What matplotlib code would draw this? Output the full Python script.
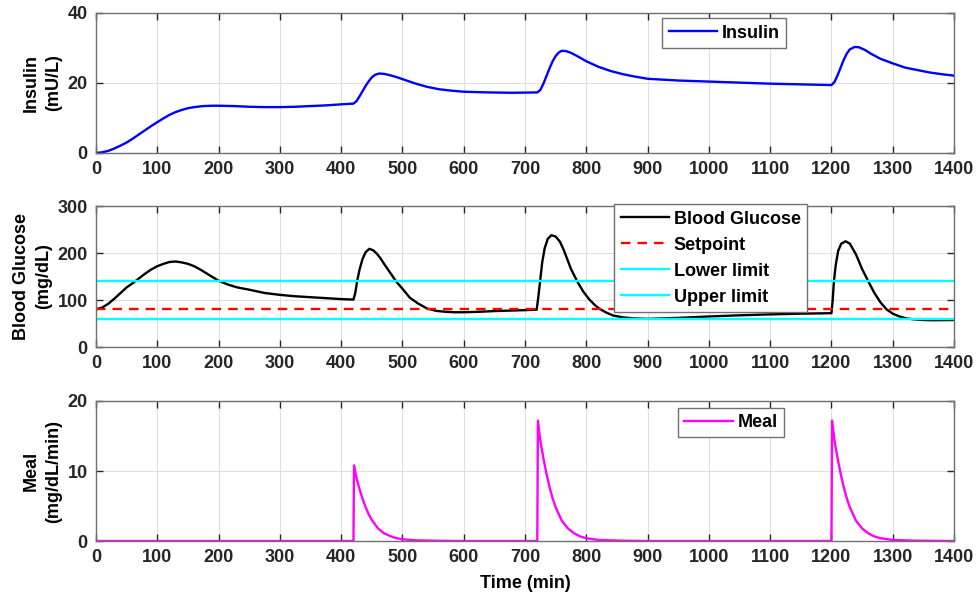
import matplotlib
matplotlib.use("Agg")
from matplotlib import pyplot as plt

plt.rcParams['font.family'] = ['Liberation Sans', 'DejaVu Sans']
plt.rcParams['font.weight'] = 'bold'
plt.rcParams['axes.labelweight'] = 'bold'
plt.rcParams['font.size'] = 13

# insulin (mU/L) vs time (min)
ins_t = [0, 10, 20, 30, 40, 50, 60, 70, 80, 90, 100, 110, 120, 130, 140, 150, 160, 175, 190, 200,
         225, 250, 275, 300, 325, 350, 375, 400, 420,
         425, 430, 435, 440, 445, 450, 455, 462, 470, 480, 490, 500, 520, 540, 560, 580, 600,
         640, 680, 720,
         725, 730, 735, 740, 745, 750, 755, 760, 767, 775, 785, 800, 820, 840, 860, 880, 900,
         950, 1000, 1050, 1100, 1150, 1200,
         1205, 1210, 1215, 1220, 1225, 1230, 1238, 1245, 1255, 1265, 1280, 1300, 1320, 1340,
         1360, 1380, 1400]
ins_v = [0, 0.2, 0.6, 1.3, 2.1, 3.0, 4.1, 5.3, 6.5, 7.7, 8.8, 9.9, 10.9, 11.7, 12.3, 12.8, 13.1, 13.4, 13.5, 13.5,
         13.4, 13.2, 13.1, 13.1, 13.2, 13.4, 13.6, 13.9, 14.1,
         14.8, 16.2, 17.7, 19.2, 20.5, 21.6, 22.3, 22.7, 22.6, 22.2, 21.7, 21.1, 19.9, 18.9, 18.2, 17.8, 17.5,
         17.3, 17.2, 17.3,
         18.0, 19.8, 22.0, 24.2, 26.2, 27.7, 28.7, 29.2, 29.1, 28.6, 27.7, 26.2, 24.6, 23.4, 22.5, 21.8, 21.2,
         20.7, 20.4, 20.1, 19.8, 19.6, 19.4,
         20.3, 22.2, 24.4, 26.6, 28.4, 29.6, 30.3, 30.2, 29.4, 28.3, 26.9, 25.6, 24.4, 23.7,
         23.0, 22.5, 22.1]

# blood glucose (mg/dL)
bg_t = [0, 10, 20, 30, 40, 50, 60, 70, 80, 90, 100, 110, 120, 130, 140, 150, 160, 170, 180, 190, 200,
        215, 230, 250, 275, 300, 325, 350, 375, 400, 420,
        423, 426, 430, 435, 440, 446, 452, 458, 464, 470, 480, 490, 500, 512, 525, 540, 555, 570,
        585, 600, 625, 650, 675, 700, 719,
        722, 725, 728, 732, 737, 743, 750, 757, 763, 768, 775, 785, 795, 805, 815, 822, 833, 844,
        860, 877, 900, 950, 1000, 1050, 1100, 1150, 1200,
        1202, 1204, 1207, 1211, 1216, 1223, 1230, 1240, 1250, 1260, 1270, 1280, 1290, 1300, 1311,
        1322, 1333, 1350, 1365, 1400]
bg_v = [80, 84, 92, 103, 115, 127, 136, 146, 156, 165, 172, 177, 181, 182, 180, 177, 172, 165, 157, 149, 141,
        133, 127, 122, 115, 111, 108, 106, 104, 102, 101,
        115, 140, 165, 188, 202, 209, 206, 199, 189, 177, 158, 139, 124, 105, 93, 82, 77, 75,
        74, 74, 75, 76.5, 77.5, 78.5, 79.5,
        110, 145, 180, 210, 230, 238, 235, 224, 207, 190, 166, 140, 118, 101, 88, 81, 73, 67,
        63, 61, 60, 62, 65, 67.5, 69.5, 71, 72,
        100, 140, 175, 205, 220, 225, 220, 197, 166, 140, 115, 95, 80, 71, 65,
        61, 59, 57.5, 57, 57.5]

setpoint = 80
lower_limit = 140
upper_limit = 60

# meal disturbance (mg/dL/min)
meal_t = [0, 420, 421, 425, 430, 435, 440, 445, 450, 460, 470, 480, 490, 500, 520, 560, 600,
          720, 721, 725, 730, 735, 740, 745, 750, 760, 770, 780, 790, 800, 820, 860, 900,
          1200, 1201, 1205, 1210, 1215, 1220, 1225, 1230, 1240, 1250, 1260, 1270, 1280, 1300, 1340, 1400]
meal_v = [0, 0, 10.8, 9.0, 7.4, 6.0, 4.8, 3.8, 3.0, 1.8, 1.1, 0.7, 0.4, 0.25, 0.1, 0.03, 0,
          0, 17.2, 14.3, 11.8, 9.6, 7.7, 6.1, 4.8, 2.9, 1.8, 1.1, 0.65, 0.4, 0.15, 0.04, 0,
          0, 17.2, 14.3, 11.8, 9.6, 7.7, 6.1, 4.8, 2.9, 1.8, 1.1, 0.65, 0.4, 0.15, 0.04, 0]

xticks = list(range(0, 1401, 100))
leg_kw = dict(loc='upper left', borderaxespad=0, handlelength=2.7, handletextpad=0.25,
              borderpad=0.35, fancybox=False)

fig = plt.figure(figsize=(9.78, 6.03), dpi=100)
left, width, height = 0.0982, 0.8773, 0.2322
ax1 = fig.add_axes([left, 0.7463, width, height])
ax2 = fig.add_axes([left, 0.4245, width, 0.2338])
ax3 = fig.add_axes([left, 0.1028, width, height])

ax1.plot(ins_t, ins_v, color='#0000ff', lw=1.7, label='Insulin')
ax1.set_ylim(0, 40)
ax1.set_yticks([0, 20, 40])
ax1.set_ylabel('Insulin\n(mU/L)', linespacing=1.4)
ax1.legend(bbox_to_anchor=(0.66, 0.962), **leg_kw)

ax2.plot(bg_t, bg_v, color='black', lw=1.7, label='Blood Glucose')
ax2.plot([0, 1400], [setpoint, setpoint], color='#ff0000', lw=1.7, ls=(0, (4, 3)), label='Setpoint')
ax2.plot([0, 1400], [lower_limit, lower_limit], color='#00ffff', lw=1.7, label='Lower limit')
ax2.plot([0, 1400], [upper_limit, upper_limit], color='#00ffff', lw=1.7, label='Upper limit')
ax2.set_ylim(0, 300)
ax2.set_yticks([0, 100, 200, 300])
ax2.set_ylabel('Blood Glucose\n(mg/dL)', linespacing=1.4)
ax2.legend(bbox_to_anchor=(0.604, 1.012), labelspacing=0.5, **leg_kw)

ax3.plot(meal_t, meal_v, color='#ff00ff', lw=1.7, label='Meal')
ax3.set_ylim(0, 20)
ax3.set_yticks([0, 10, 20])
ax3.set_ylabel('Meal\n(mg/dL/min)', linespacing=1.4)
ax3.set_xlabel('Time (min)', labelpad=6)
ax3.legend(bbox_to_anchor=(0.678, 0.952), **leg_kw)

for ax in (ax1, ax2, ax3):
    ax.set_xlim(0, 1400)
    ax.set_xticks(xticks)
    ax.grid(True, color='#dedede', lw=0.8)
    ax.set_axisbelow(True)
    ax.tick_params(direction='in', top=True, right=True, length=5, width=1,
                   colors='#262626', labelsize=13, pad=6)
    for s in ax.spines.values():
        s.set_color('#707070')
        s.set_linewidth(1)
    frame = ax.get_legend().get_frame()
    frame.set_edgecolor('#707070')
    frame.set_linewidth(1)
    frame.set_alpha(1)

fig.savefig('out.png', dpi=100, facecolor='white')
